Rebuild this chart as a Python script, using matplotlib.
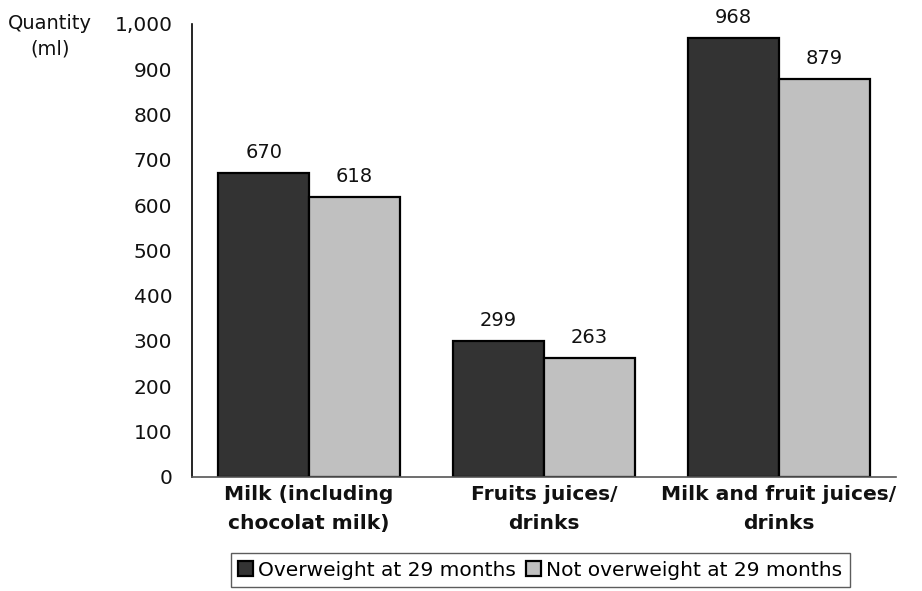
import numpy as np
import matplotlib.pyplot as plt

# drink categories and mean daily quantities (ml)
categories = ["Milk (including\nchocolat milk)", "Fruits juices/\ndrinks", "Milk and fruit juices/\ndrinks"]
overweight = [670, 299, 968]
not_overweight = [618, 263, 879]
series_names = ["Overweight at 29 months", "Not overweight at 29 months"]

plt.rcParams["font.family"] = ["DejaVu Sans"]

fig = plt.figure(figsize=(9.22, 5.91), dpi=100)
ax = fig.add_axes([0.208, 0.1934, 0.764, 0.7660])

x = np.arange(len(categories))
w = 0.3875
b1 = ax.bar(x - w / 2, overweight, w, color="#333333", edgecolor="black", linewidth=1.6,
            label=series_names[0])
b2 = ax.bar(x + w / 2, not_overweight, w, color="#c0c0c0", edgecolor="black", linewidth=1.6,
            label=series_names[1])

for bars, vals in ((b1, overweight), (b2, not_overweight)):
    for rect, v in zip(bars, vals):
        ax.annotate(f"{v}", (rect.get_x() + rect.get_width() / 2, v),
                    xytext=(0, 8), textcoords="offset points",
                    ha="center", va="bottom", fontsize=14, color="#111111")

ax.set_xlim(-0.5, len(categories) - 0.5)
ax.set_ylim(0, 1000)
ax.set_yticks(range(0, 1001, 100))
ax.set_yticklabels([f"{v:,}" for v in range(0, 1001, 100)])
ax.set_xticks(x)
ax.set_xticklabels(categories, fontweight="bold", linespacing=1.65)
ax.tick_params(axis="both", length=0, labelsize=14.5, colors="#111111")
ax.tick_params(axis="y", pad=14)
ax.tick_params(axis="x", pad=6)
for lbl in ax.get_xticklabels():
    lbl.set_fontsize(14.6)

for side in ("top", "right"):
    ax.spines[side].set_visible(False)
ax.spines["left"].set_color("black")
ax.spines["left"].set_linewidth(1.2)
ax.spines["bottom"].set_color("#555555")
ax.spines["bottom"].set_linewidth(1.2)

fig.text(0.054, 0.939, "Quantity\n(ml)", ha="center", va="center", fontsize=14,
         color="#111111", linespacing=1.45)

leg = fig.legend(loc="center", bbox_to_anchor=(0.586, 0.0355), ncol=2, fontsize=14.5,
                 frameon=True, fancybox=False, edgecolor="#333333",
                 handlelength=0.75, handleheight=0.75, handletextpad=0.25,
                 columnspacing=0.5, borderpad=0.35, borderaxespad=0)
leg.get_frame().set_linewidth(1.0)

fig.savefig("out.png", dpi=100)
